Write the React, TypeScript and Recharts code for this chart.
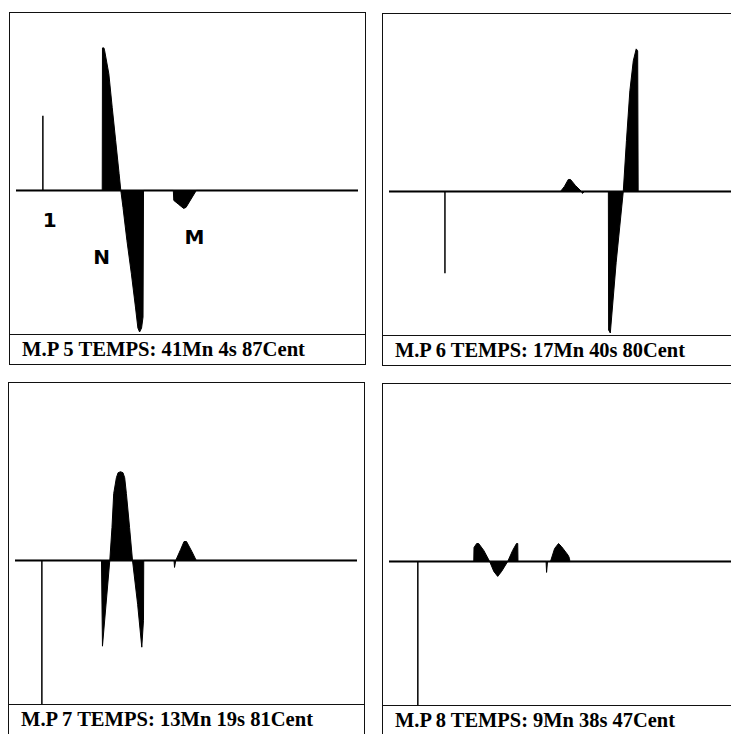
import { ComposedChart, Area, XAxis, YAxis, ReferenceLine, ReferenceDot } from "recharts"

// captions printed under each trace
const captions = [
  "M.P 5 TEMPS: 41Mn 4s 87Cent",
  "M.P 6 TEMPS: 17Mn 40s 80Cent",
  "M.P 7 TEMPS: 13Mn 19s 81Cent",
  "M.P 8 TEMPS: 9Mn 38s 47Cent",
]

// traces: [time ms, amplitude mV]
const wave5 = [
  [0, 0], [17.65, 0], [17.7, 7.15], [18.0, 7.15], [18.15, 7.0], [19.0, 5.85], [19.7, 4.15],
  [20.4, 2.5], [21.1, 0.85], [21.45, 0], [21.9, -0.85], [22.7, -2.5], [23.6, -4.15],
  [24.45, -5.85], [24.95, -6.9], [25.3, -7.1], [25.7, -6.9], [26.0, -6.35], [26.1, 0],
  [32.2, 0], [32.3, -0.5], [33.3, -0.7], [34.3, -0.9], [34.8, -0.85], [36.9, 0], [70, 0],
]
const wave6 = [
  [0, 0], [35.1, 0], [35.9, 0.25], [36.7, 0.6], [37.15, 0.6], [38.15, 0.3], [39.4, 0],
  [39.6, -0.1], [40.0, 0], [44.9, 0], [44.95, -6.95], [45.3, -7.1], [46.5, -3.55],
  [47.95, 0], [48.6, 2.55], [49.3, 5.05], [50.0, 6.55], [50.6, 7.15], [50.9, 7.05],
  [51.0, 0], [70, 0],
]
const wave7 = [
  [0, 0], [17.7, 0], [17.9, -4.3], [19.4, 0], [19.85, 1.65], [20.2, 3.35], [20.75, 4.15],
  [21.1, 4.4], [21.6, 4.45], [22.1, 4.4], [22.45, 4.15], [22.8, 3.35], [23.45, 1.65],
  [24.05, 0], [25.1, -2.2], [25.95, -4.35], [26.3, -3.0], [26.35, 0],
  [32.55, 0], [32.65, -0.35], [32.9, 0], [33.9, 0.55], [34.6, 0.95], [35.1, 0.95],
  [36.2, 0.45], [37.1, 0], [70, 0],
]
const wave8 = [
  [0, 0], [17.35, 0], [17.4, 0.7], [17.95, 0.9], [18.35, 0.9], [19.4, 0.55], [20.6, 0],
  [21.45, -0.5], [22.25, -0.75], [23.05, -0.5], [24.3, 0], [25.3, 0.55], [26.1, 0.9],
  [26.35, 0.9], [26.4, 0], [32.15, 0], [32.25, -0.55], [32.45, 0], [33.05, 0],
  [33.9, 0.65], [34.7, 0.9], [35.3, 0.75], [36.7, 0.3], [36.95, 0.15], [37.0, 0], [70, 0],
]
const waves = [wave5, wave6, wave7, wave8]

// stimulus artefact: [time ms, amplitude mV]
const sticks = [[5.5, 3.75], [11.45, -4.1], [5.5, -7.2], [5.9, -7.2]]

// hand written marks on the first trace
const marks5 = [
  { t: 6.9, v: -1.5, text: "1" },
  { t: 17.55, v: -3.35, text: "N" },
  { t: 36.5, v: -2.35, text: "M" },
]

const panels = [
  { left: 9, top: 12, textW: 283 },
  { left: 382, top: 13, textW: 290 },
  { left: 8, top: 382, textW: 292 },
  { left: 382, top: 383, textW: 280 },
]

const W = 357
const PLOT_H = 321
const CAP_H = 30

function Trace({ idx }: { idx: number }) {
  const data = waves[idx].map(([t, v]) => ({ t, v }))
  const [st, sv] = sticks[idx]
  const p = panels[idx]
  return (
    <div
      style={{
        position: "absolute",
        left: p.left,
        top: p.top,
        width: W,
        height: PLOT_H + CAP_H + 2,
        border: "1.5px solid #111",
        boxSizing: "border-box",
      }}
    >
      <ComposedChart
        width={W - 3}
        height={PLOT_H}
        data={data}
        margin={{ top: 0, right: 6, bottom: 0, left: 6 }}
      >
        <XAxis type="number" dataKey="t" domain={[0, 70]} hide allowDataOverflow />
        <YAxis type="number" domain={[-7.2, 8.9]} hide allowDataOverflow />
        <ReferenceLine y={0} stroke="#000" strokeWidth={2} />
        <ReferenceLine
          segment={[{ x: st, y: 0 }, { x: st, y: sv }]}
          stroke="#000"
          strokeWidth={1.5}
        />
        <Area
          type="linear"
          dataKey="v"
          baseValue={0}
          stroke="#000"
          strokeWidth={1}
          fill="#000"
          fillOpacity={1}
          dot={false}
          activeDot={false}
          isAnimationActive={false}
        />
        {idx === 0 &&
          marks5.map((m) => (
            <ReferenceDot
              key={m.text}
              x={m.t}
              y={m.v}
              r={0}
              fill="none"
              stroke="none"
              label={{
                value: m.text,
                position: "center",
                fill: "#000",
                fontSize: 20,
                fontWeight: 700,
                fontFamily: "DejaVu Sans",
              }}
            />
          ))}
      </ComposedChart>
      <div style={{ borderTop: "1.5px solid #111", height: CAP_H }}>
        <svg width={W - 3} height={CAP_H - 2}>
          <text
            x={12}
            y={21}
            textLength={p.textW}
            lengthAdjust="spacingAndGlyphs"
            fontFamily="Liberation Serif"
            fontWeight={700}
            fontSize={22}
            fill="#000"
          >
            {captions[idx]}
          </text>
        </svg>
      </div>
    </div>
  )
}

export default function App() {
  return (
    <div
      style={{
        position: "absolute",
        left: 0,
        top: 0,
        width: 731,
        height: 734,
        overflow: "hidden",
        background: "#fff",
      }}
    >
      {[0, 1, 2, 3].map((i) => (
        <Trace key={i} idx={i} />
      ))}
    </div>
  )
}
